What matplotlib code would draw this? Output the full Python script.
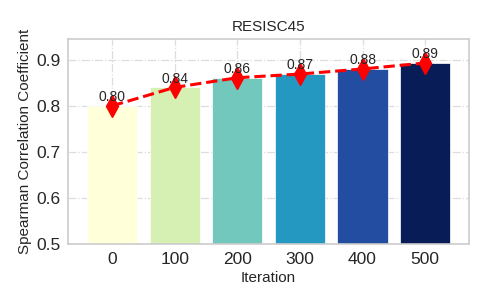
import numpy as np
import matplotlib.pyplot as plt
import seaborn as sns

iterations = ["0", "100", "200", "300", "400", "500"]
spearman = [0.800, 0.840, 0.861, 0.869, 0.880, 0.893]

sns.set_style("whitegrid")
plt.rcParams['font.family'] = ['Liberation Sans', 'DejaVu Sans']

colors = plt.cm.YlGnBu(np.linspace(0, 1, len(iterations)))
x = np.arange(len(iterations))

fig, ax = plt.subplots(figsize=(4.87, 3.05), dpi=100)
ax.bar(x, spearman, width=0.8, color=colors, edgecolor="white", linewidth=0.5, zorder=2)
ax.plot(x, spearman, color="red", linestyle="--", linewidth=2.2, marker="d",
        markersize=11, zorder=3)

for xi, v in zip(x, spearman):
    ax.text(xi, v + 0.004, f"{v:.2f}", ha="center", va="bottom", fontsize=10, zorder=4)

ax.set_xticks(x)
ax.set_xticklabels(iterations)
ax.set_xlim(-0.7, 5.7)
ax.set_ylim(0.5, 0.945)
ax.set_yticks([0.5, 0.6, 0.7, 0.8, 0.9])
ax.tick_params(axis="both", labelsize=12.5, pad=2)
ax.grid(True, linestyle="-.", color="#dddddd", linewidth=0.9, zorder=0)
ax.set_axisbelow(True)
for s in ax.spines.values():
    s.set_color("#cccccc")
    s.set_linewidth(1.2)

ax.set_title("RESISC45", fontsize=11)
ax.set_xlabel("Iteration", fontsize=11, labelpad=3)
ax.set_ylabel("Spearman Correlation Coefficient", fontsize=11, labelpad=3)

fig.subplots_adjust(left=0.14, right=0.963, top=0.872, bottom=0.2)
fig.savefig("out.png", dpi=100)
